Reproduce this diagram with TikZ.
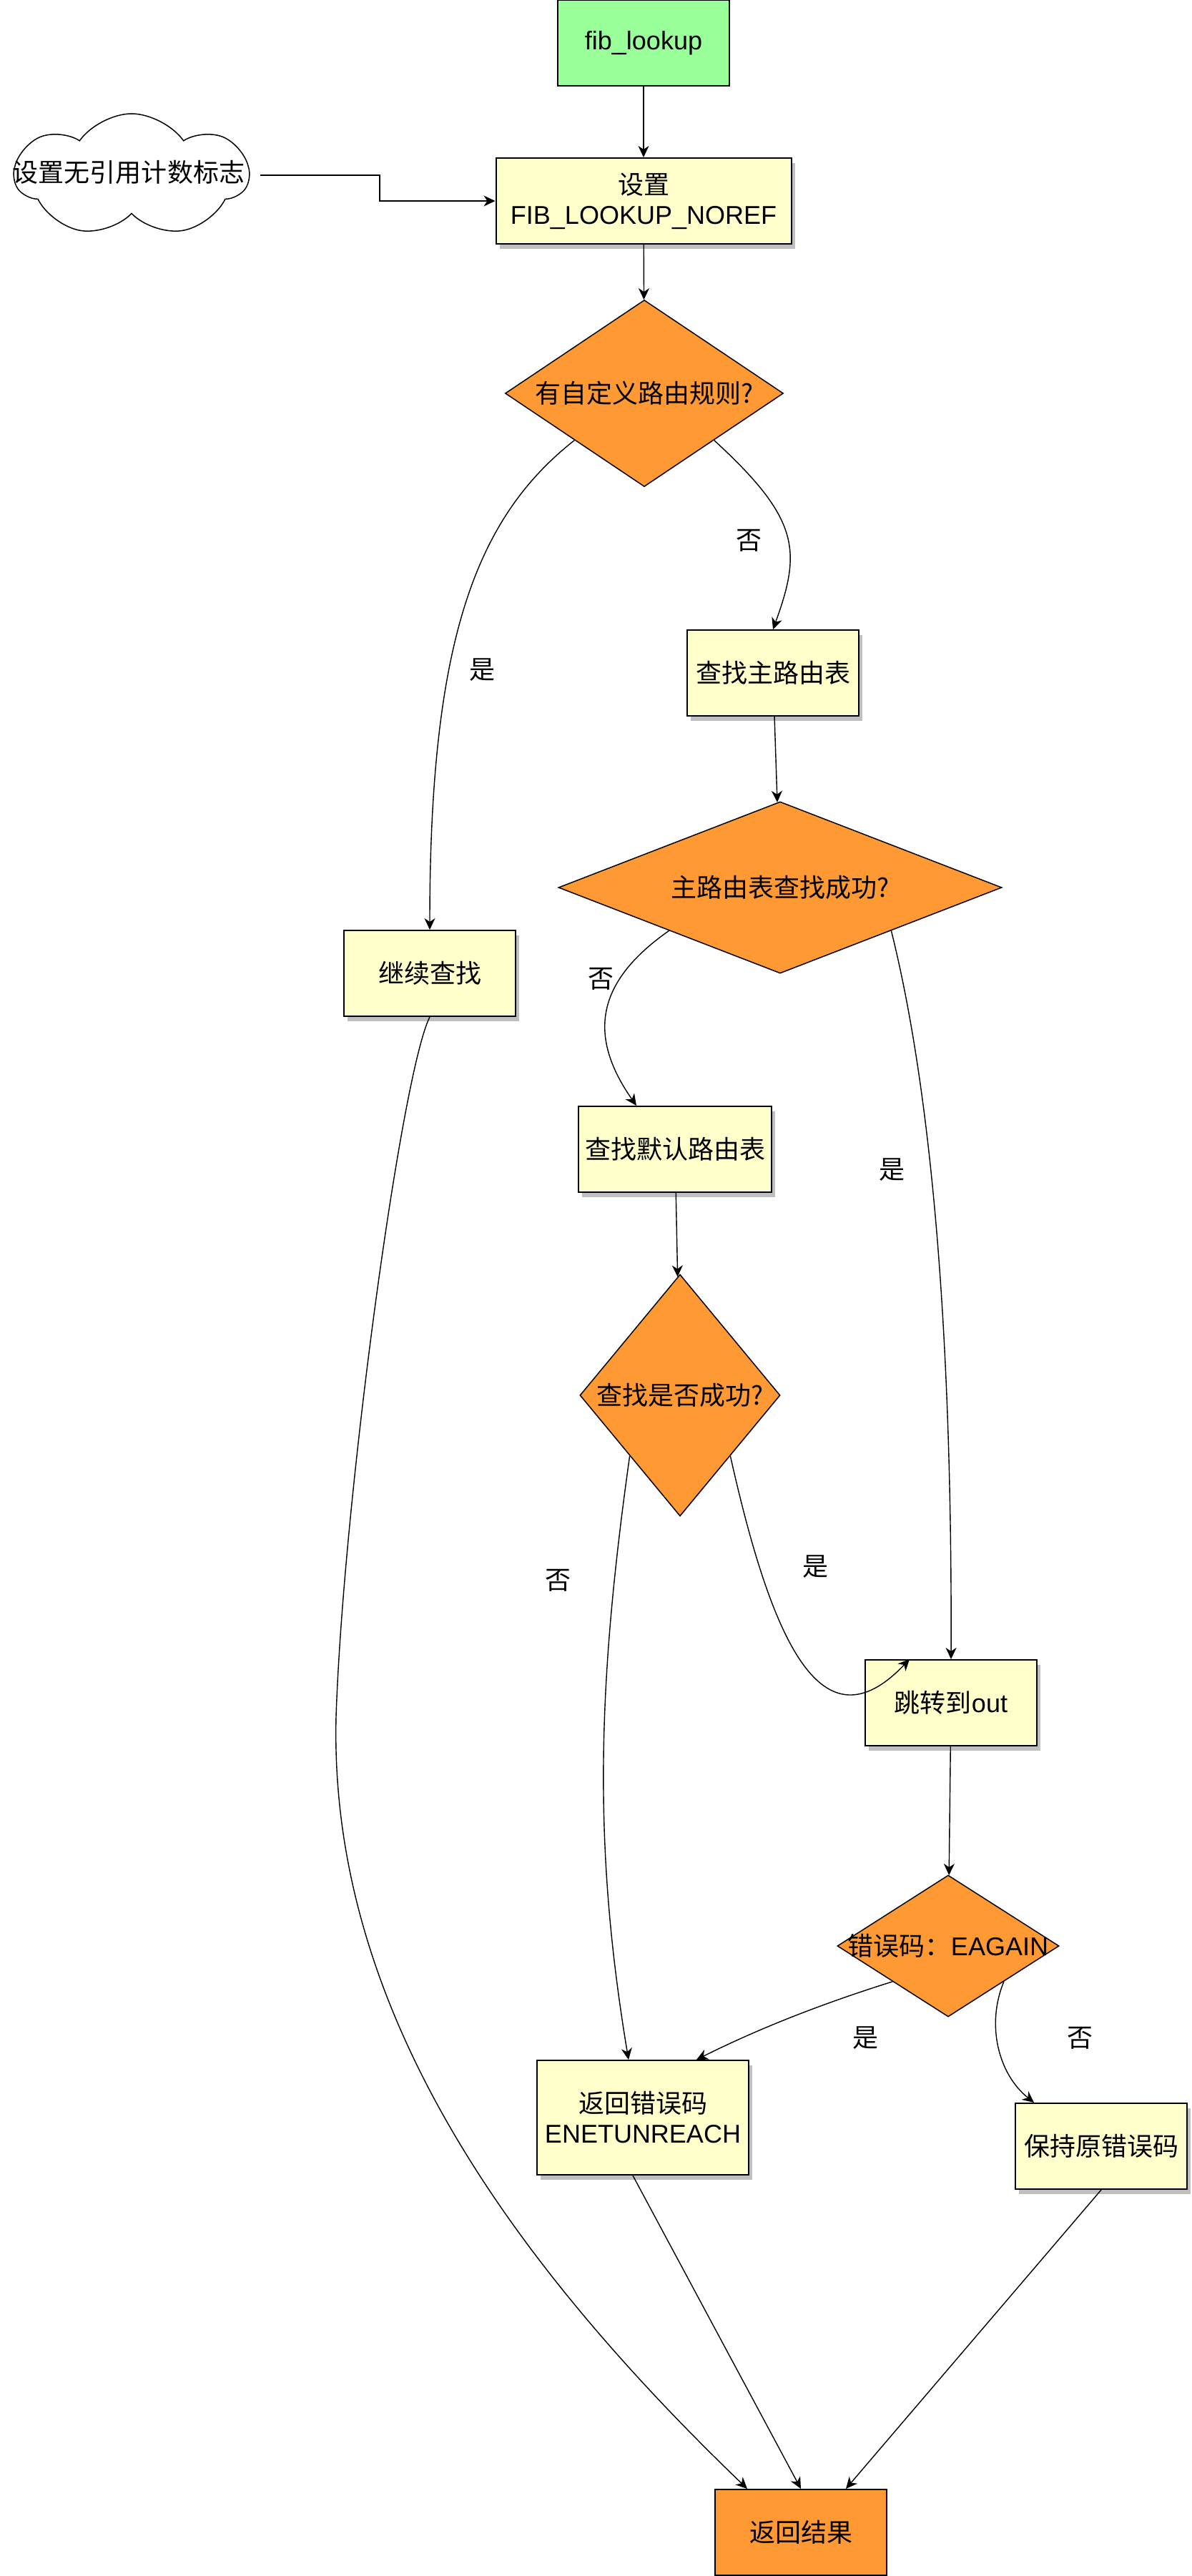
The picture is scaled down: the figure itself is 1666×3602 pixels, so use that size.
\documentclass[tikz,border=0pt]{standalone}
\usepackage{fontspec}
\setmainfont{Liberation Sans}
\newfontfamily\cjk{Noto Sans CJK SC}
\usetikzlibrary{shapes.geometric,shapes.symbols,arrows.meta,shadows}
\definecolor{startgreen}{HTML}{99FF99}
\definecolor{stepyellow}{HTML}{FFFFCC}
\definecolor{decorange}{HTML}{FF9933}
\begin{document}
\begin{tikzpicture}[x=0.5pt, y=-0.5pt,
    every node/.style={font=\fontsize{18}{21}\selectfont},
    startbox/.style={draw, line width=1pt, fill=startgreen, minimum width=120pt, minimum height=60pt},
    stepbox/.style={draw, line width=1pt, fill=stepyellow, minimum width=120pt, minimum height=60pt,
      align=center, inner sep=2pt,
      drop shadow={shadow xshift=2.5pt, shadow yshift=-3.5pt, fill=black!25, opacity=1}},
    endbox/.style={draw, line width=1pt, fill=decorange, minimum width=120pt, minimum height=60pt},
    decision/.style={diamond, draw, line width=0.75pt, fill=decorange, inner sep=0pt},
    lbl/.style={inner sep=0pt},
    arr/.style={-{Stealth[length=8pt, width=7.5pt, inset=2.5pt]}, line width=0.7pt}]
      \useasboundingbox (0,0) rectangle (1666,3602);
      \node[startbox]                                  (fib)     at (900,60)    {fib\_lookup};
      \node[stepbox, minimum width=206.5pt]            (noref)   at (900,281)   {{\cjk 设置}\\FIB\_LOOKUP\_NOREF};
      \node[cloud, draw, line width=0.75pt, cloud puffs=7, cloud puff arc=110, cloud ignores aspect,
            minimum width=163pt, minimum height=86pt]   (flag)    at (184,245)   {};
      \node[lbl]                                       (flagtxt) at (180,241)   {\cjk 设置无引用计数标志};
      \node[decision, minimum width=194.5pt, minimum height=130.5pt,
            label=center:{\cjk 有自定义路由规则?}]      (rule)    at (901,550)   {};
      \node[stepbox]                                   (main)    at (1081,941)  {\cjk 查找主路由表};
      \node[stepbox]                                   (cont)    at (601,1361)  {\cjk 继续查找};
      \node[decision, minimum width=310pt, minimum height=120pt,
            label=center:{\cjk 主路由表查找成功?}]      (found)   at (1091,1241) {};
      \node[stepbox, minimum width=135pt]              (dflt)    at (944,1607)  {\cjk 查找默认路由表};
      \node[decision, minimum width=140pt, minimum height=169pt,
            label=center:{\cjk 查找是否成功?}]          (ok)      at (951,1951)  {};
      \node[stepbox]                                   (jump)    at (1330,2381) {{\cjk 跳转到}out};
      \node[decision, minimum width=155pt, minimum height=99pt,
            label=center:{{\cjk 错误码：}EAGAIN}]       (again)   at (1326,2721) {};
      \node[stepbox, minimum width=148pt, minimum height=80pt] (unreach) at (899,2961) {{\cjk 返回错误码}\\ENETUNREACH};
      \node[stepbox]                                   (keep)    at (1540,3001) {\cjk 保持原错误码};
      \node[endbox]                                    (res)     at (1120,3541) {\cjk 返回结果};
      \node[lbl] (no1)  at (1047,756)  {\cjk 否};
      \node[lbl] (yes1) at (674,937)   {\cjk 是};
      \node[lbl] (no2)  at (840,1369)  {\cjk 否};
      \node[lbl] (yes2) at (1247,1636) {\cjk 是};
      \node[lbl] (no3)  at (780,2210)  {\cjk 否};
      \node[lbl] (yes3) at (1140,2191) {\cjk 是};
      \node[lbl] (yes4) at (1210,2850) {\cjk 是};
      \node[lbl] (no4)  at (1510,2850) {\cjk 否};
      \draw[arr] (fib) -- (noref);
      \draw[arr] ([xshift=7pt]flag.east) -- ++(167,0) |- (noref.west);
      \draw[arr] (noref) -- (rule);
      \draw[arr] (rule.south east) .. controls +(120,110) and +(40,-110) .. (main.north);
      \draw[arr] (rule.south west) .. controls +(-140,110) and +(0,-400) .. (cont.north);
      \draw[arr] (main) -- (found);
      \draw[arr] (found.south west) .. controls +(-100,70) and +(-70,-100) .. ([xshift=-27pt]dflt.north);
      \draw[arr] (found.south east) .. controls +(50,200) and +(2,-500) .. (jump.north);
      \draw[arr] (dflt) -- (ok);
      \draw[arr] (ok.south west) .. controls +(-45,320) and +(-50,-300) .. ([xshift=-10pt]unreach.north);
      \draw[arr] (ok.south east) .. controls +(59,264) and +(-122,128) .. ([xshift=-29pt]jump.north);
      \draw[arr] (jump) -- (again);
      \draw[arr] (again.south west) .. controls +(-80,25) and +(100,-50) .. ([xshift=37.5pt]unreach.north);
      \draw[arr] (again.south east) .. controls +(-25,60) and +(-50,-40) .. ([xshift=-47pt]keep.north);
      \draw[arr] (cont.south) .. controls +(-40,80) and +(10,-300) .. (470,2400)
                 .. controls +(-10,400) and +(-343,-330) .. ([xshift=-37.5pt]res.north);
      \draw[arr] ([xshift=-7pt]unreach.south) -- (res.north);
      \draw[arr] (keep.south) -- ([xshift=31.5pt]res.north);
\end{tikzpicture}
\end{document}
